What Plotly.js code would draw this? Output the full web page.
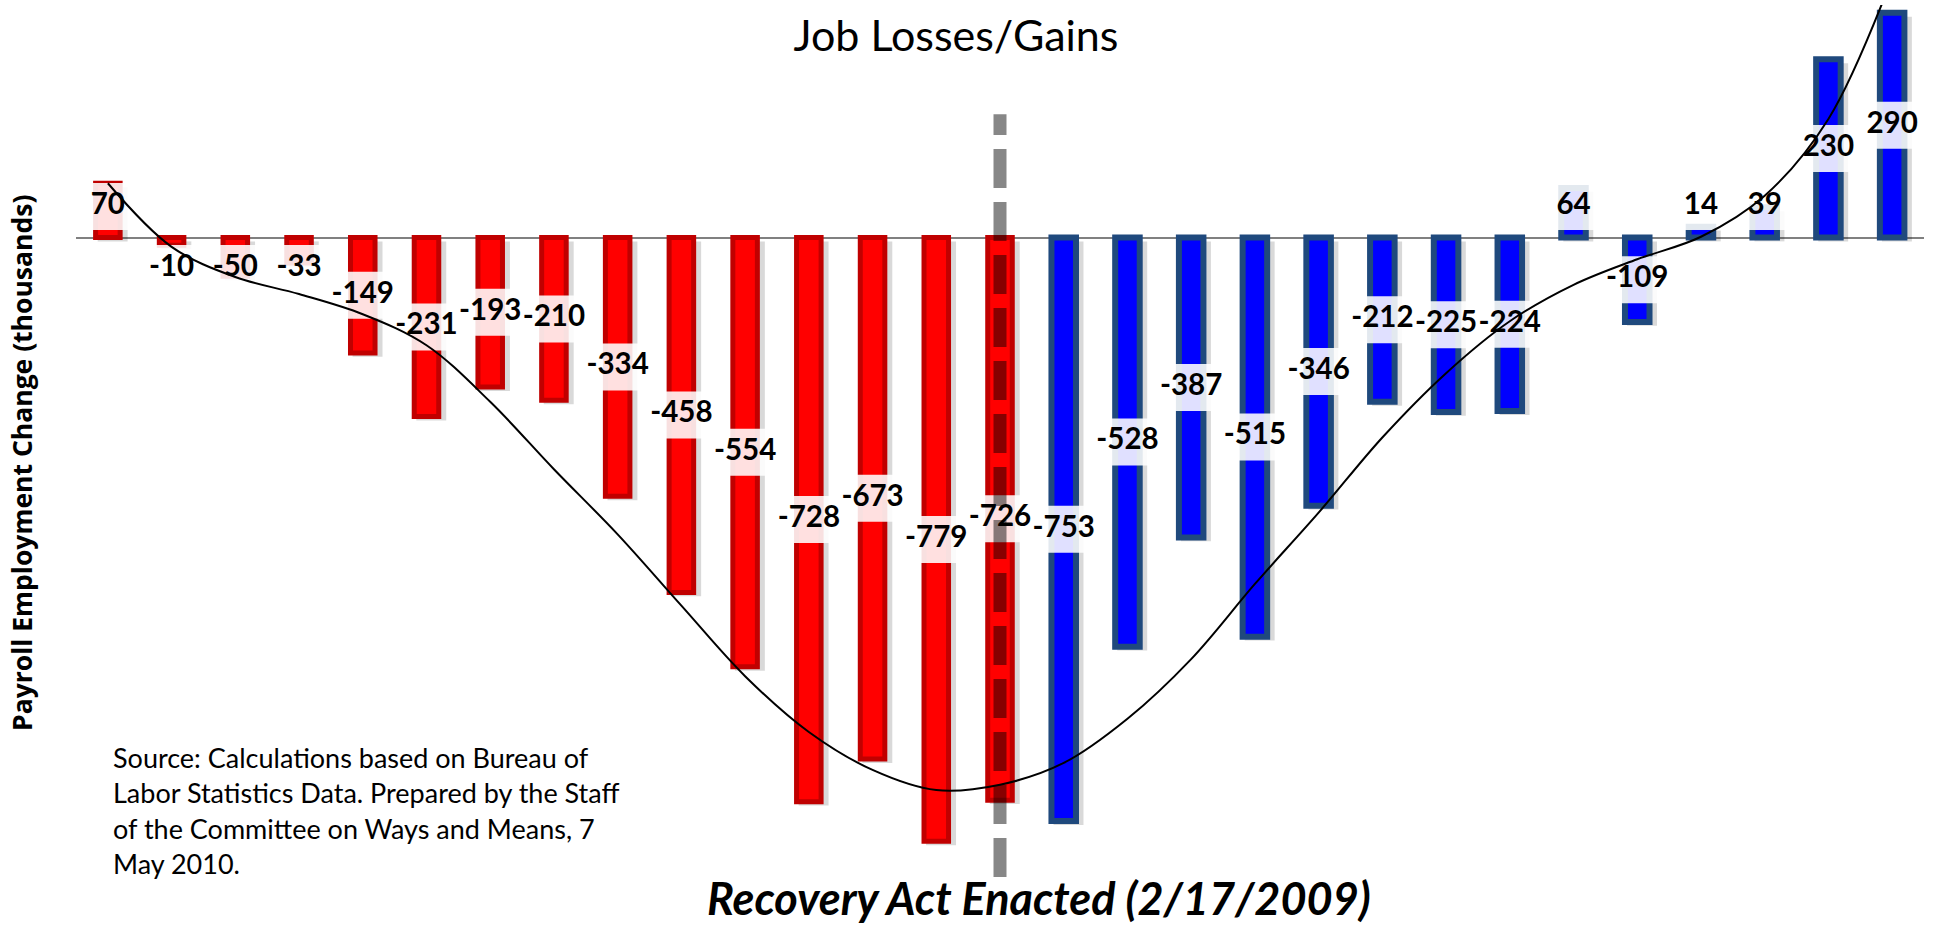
<!DOCTYPE html>
<html>
<head>
<meta charset="utf-8">
<script src="https://cdn.plot.ly/plotly-3.0.1.min.js"></script>
<style>html,body{margin:0;padding:0;background:#fff;}#chart{width:1936px;height:927px;}</style>
</head>
<body>
<div id="chart"></div>
<script>
// ---- data ----
const months = ["Dec-07","Jan-08","Feb-08","Mar-08","Apr-08","May-08","Jun-08","Jul-08","Aug-08","Sep-08","Oct-08","Nov-08","Dec-08",
  "Jan-09","Feb-09","Mar-09","Apr-09","May-09","Jun-09","Jul-09","Aug-09","Sep-09","Oct-09","Nov-09","Dec-09",
  "Jan-10","Feb-10","Mar-10","Apr-10"];
const jobChange = [70,-10,-50,-33,-149,-231,-193,-210,-334,-458,-554,-728,-673,-779,-726,
  -753,-528,-387,-515,-346,-212,-225,-224,64,-109,14,39,230,290];
// trendline as drawn on the chart (read at each month)
const trendLine = [70,-12,-51,-73,-99,-139,-212,-299,-383,-475,-566,-638,-687,-713,-706,
  -678,-621,-544,-447,-355,-258,-175,-108,-61,-28,1,54,153,335];
const enactedMonth = "Feb-09";
const chartTitle = "Job Losses/Gains";
const yTitle = "Payroll Employment Change (thousands)";
const eventLabel = "Recovery Act Enacted (2/17/2009)";
const sourceLines = ["Source: Calculations based on Bureau of",
  "Labor Statistics Data. Prepared by the Staff",
  "of the Committee on Ways and Means, 7",
  "May 2010."];

// ---- layout geometry ----
const W = 1936, H = 927;
const M = {l:76, r:12, t:5, b:27};
const plotW = W - M.l - M.r, plotH = H - M.t - M.b;
const yRange = [-854.8, 300];
const pxPerUnit = plotH / (yRange[1] - yRange[0]);
const catPx = plotW / months.length;
const px2paperX = p => (p - M.l) / plotW;
const px2paperY = p => (H - M.b - p) / plotH;

const enactIdx = months.indexOf(enactedMonth);
const isBefore = months.map((m, i) => i <= enactIdx);
const fillCol = isBefore.map(b => b ? "#FF0000" : "#0000FF");
const lineCol = isBefore.map(b => b ? "#C00000" : "#1F497D");
const lineW = isBefore.map(b => b ? 5 : 6);

// label anchor positions (center of bar, but kept clear of the zero line for small bars)
const labelPos = jobChange.map(v => Math.abs(v) / 2 < 40 ? Math.sign(v) * 40 : v / 2);
const labelText = jobChange.map(v => "<b>" + v + "</b>");
const boxHpx = 47;
const boxUnits = boxHpx / pxPerUnit;
const boxWidth = jobChange.map(v => (String(v).length * 16.5 + 8) / catPx);

const shadowW = 0.47;
const traces = [
  { // soft drop shadow
    type: "bar", x: months, y: jobChange, base: jobChange.map(() => -5),
    width: shadowW, offset: -shadowW / 2 + 0.075,
    marker: {color: "rgba(0,0,0,0.15)", line: {width: 0}},
    hoverinfo: "skip", showlegend: false
  },
  {
    type: "bar", x: months, y: jobChange, width: 0.385,
    marker: {color: fillCol, line: {color: lineCol, width: lineW}},
    name: "Payroll employment change", showlegend: false
  },
  { // label background boxes
    type: "bar", x: months, y: labelPos.map(() => boxUnits),
    base: labelPos.map(p => p - boxUnits / 2), width: boxWidth,
    marker: {color: "rgba(255,255,255,0.88)", line: {width: 0}},
    hoverinfo: "skip", showlegend: false
  },
  {
    type: "scatter", mode: "text", x: months, y: labelPos, text: labelText,
    textposition: "middle center",
    textfont: {family: "Lato, 'Open Sans', sans-serif", size: 29.5, color: "#000"},
    hoverinfo: "skip", showlegend: false
  },
  {
    type: "scatter", mode: "lines", x: months, y: trendLine,
    line: {color: "#000", width: 2, shape: "spline", smoothing: 1},
    name: "Trend", showlegend: false
  }
];

const annotations = [
  {
    text: "<b>" + yTitle + "</b>", textangle: -90, showarrow: false,
    xref: "paper", yref: "paper", x: px2paperX(22), y: px2paperY(463),
    xanchor: "center", yanchor: "middle",
    font: {family: "'Open Sans', sans-serif", size: 26.5, color: "#000"}
  },
  {
    text: "<b><i>" + eventLabel + "</i></b>", showarrow: false,
    xref: "paper", yref: "paper", x: px2paperX(1039), y: px2paperY(898),
    xanchor: "center", yanchor: "middle",
    font: {family: "Lato, sans-serif", size: 45, color: "#000"}
  }
].concat(sourceLines.map((t, k) => ({
  text: t, showarrow: false, xref: "paper", yref: "paper",
  x: px2paperX(111), y: px2paperY(757 + k * 35.5), xanchor: "left", yanchor: "middle",
  font: {family: "Lato, sans-serif", size: 27, color: "#000"}
})));

const layout = {
  width: W, height: H,
  margin: M,
  paper_bgcolor: "#fff", plot_bgcolor: "#fff",
  barmode: "overlay",
  showlegend: false,
  title: {
    text: chartTitle, x: 956 / W, xanchor: "center", xref: "container",
    y: 1 - 36 / H, yanchor: "middle", yref: "container",
    font: {family: "Lato, sans-serif", size: 43, color: "#000"}
  },
  xaxis: {
    type: "category", range: [-0.5, months.length - 0.5],
    showticklabels: false, showgrid: false, zeroline: false, showline: false, ticks: ""
  },
  yaxis: {
    range: yRange, showticklabels: false, showgrid: false, ticks: "",
    zeroline: true, zerolinecolor: "#808080", zerolinewidth: 2, showline: false
  },
  shapes: [{
    type: "line", xref: "x", yref: "y",
    x0: enactedMonth, x1: enactedMonth, y0: -825, y1: 159,
    line: {color: "rgba(0,0,0,0.47)", width: 13, dash: "39px,14px"},
    layer: "above"
  }],
  annotations: annotations
};

Plotly.newPlot("chart", traces, layout, {staticPlot: true, displayModeBar: false});
</script>
</body>
</html>
